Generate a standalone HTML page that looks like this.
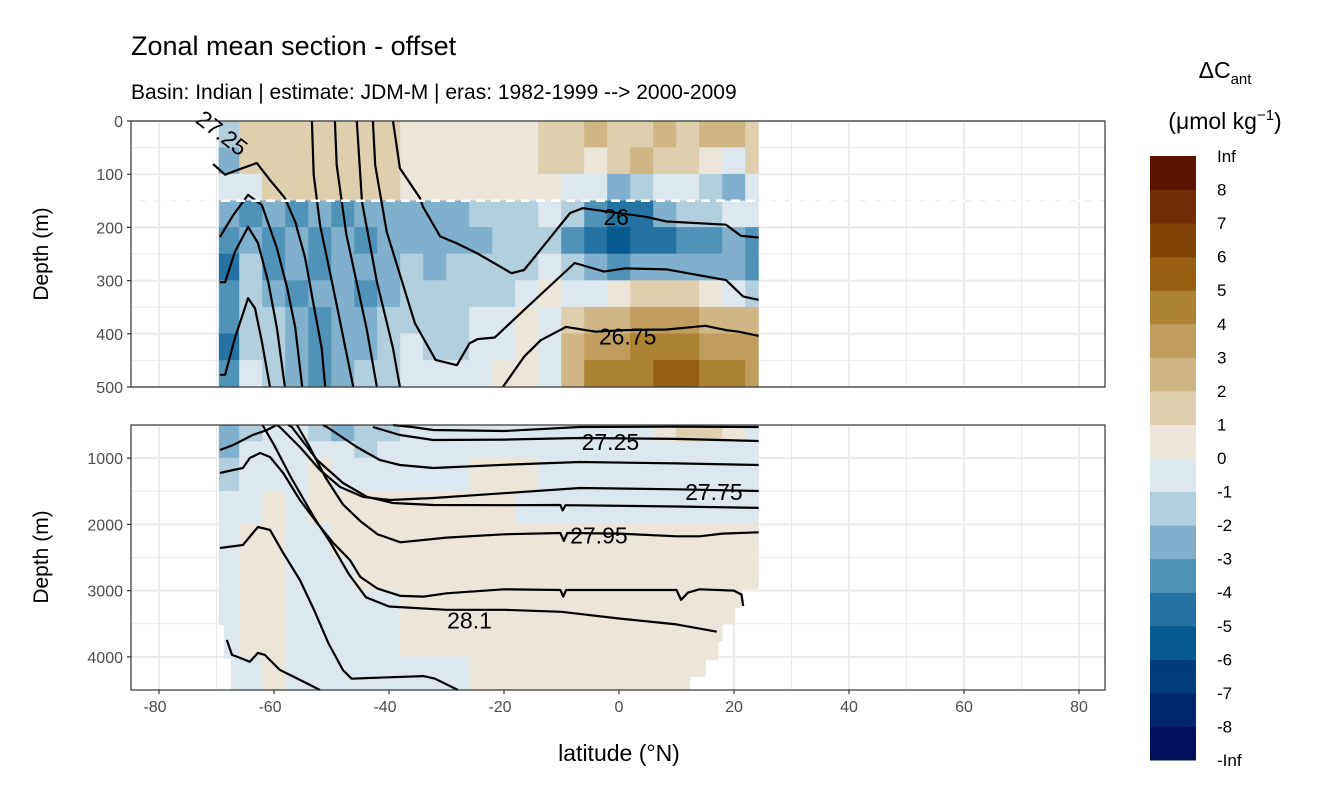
<!DOCTYPE html>
<html><head><meta charset="utf-8"><style>
html,body{margin:0;padding:0;background:#fff}
svg{display:block;font-family:"Liberation Sans",sans-serif}
</style></head><body>
<svg id="chart" width="1344" height="806" viewBox="0 0 1344 806" xmlns="http://www.w3.org/2000/svg">
<text x="131" y="55" font-size="27" fill="#000">Zonal mean section - offset</text>
<text x="131" y="99" font-size="21" fill="#000">Basin: Indian | estimate: JDM-M | eras: 1982-1999 --&gt; 2000-2009</text>
<text transform="translate(48,254) rotate(-90)" text-anchor="middle" font-size="21">Depth (m)</text>
<text transform="translate(48,557) rotate(-90)" text-anchor="middle" font-size="21">Depth (m)</text>
<text x="619" y="761" text-anchor="middle" font-size="23">latitude (°N)</text>
<text x="1225" y="78" text-anchor="middle" font-size="23">ΔC<tspan font-size="15" dy="6">ant</tspan></text>
<text x="1225" y="129" text-anchor="middle" font-size="23">(μmol kg<tspan font-size="15" dy="-9">−1</tspan><tspan dy="9">)</tspan></text>
<g id="g"></g>
</svg>
<script>
// ---- data ----
const binColors = ["#000f5a","#00266a","#003d7a","#075a8f","#2573a2","#5193b8","#80b0cc","#b2cfe0","#dde8ee","#ece5d9","#dfcfae","#cfb684","#bf9d5e","#ad8232","#965f12","#804505","#702c05","#5e1200"];
const binLabels = ["Inf","8","7","6","5","4","3","2","1","0","-1","-2","-3","-4","-5","-6","-7","-8","-Inf"];
const colLats = [-70,-66,-62,-58,-54,-50,-46,-42,-38,-34,-30,-26,-22,-18,-14,-10,-6,-2,2,6,10,14,18,22];
const topDepths = [0,50,100,150,200,250,300,350,400,450,500];
const topVals = [
[-1.5,1.5,1.5,1.5,1.5,1.5,1.5,1.5,0.5,0.5,0.5,0.5,0.5,0.5,1.5,1.5,2.5,1.5,1.5,2.5,1.5,2.5,2.5,1.5],
[-2.5,1.5,1.5,1.5,1.5,1.5,1.5,1.5,0.5,0.5,0.5,0.5,0.5,0.5,1.5,1.5,0.5,1.5,2.5,1.5,1.5,0.5,-0.5,1.5],
[-0.5,-0.5,1.5,1.5,1.5,1.5,1.5,1.5,0.5,0.5,0.5,0.5,0.5,0.5,0.5,-0.5,-0.5,-2.5,-1.5,-0.5,-0.5,-1.5,-2.5,-0.5],
[-2.5,-3.5,-2.5,-3.5,-2.5,-3.5,-2.5,-2.5,-2.5,-2.5,-2.5,-1.5,-1.5,-1.5,-0.5,-1.5,-3.5,-4.5,-4.5,-2.5,-1.5,-1.5,-0.5,-0.5],
[-3.5,-2.5,-3.5,-2.5,-3.5,-2.5,-3.5,-2.5,-2.5,-2.5,-2.5,-2.5,-1.5,-1.5,-1.5,-3.5,-4.5,-5.5,-4.5,-4.5,-3.5,-3.5,-2.5,-3.5],
[-4.5,-1.5,-3.5,-2.5,-3.5,-2.5,-2.5,-2.5,-1.5,-2.5,-1.5,-1.5,-1.5,-1.5,-0.5,-1.5,-2.5,-3.5,-2.5,-2.5,-2.5,-2.5,-2.5,-3.5],
[-3.5,-1.5,-2.5,-3.5,-2.5,-2.5,-3.5,-2.5,-1.5,-1.5,-1.5,-1.5,-1.5,-0.5,0.5,-0.5,-0.5,0.5,1.5,1.5,1.5,0.5,-0.5,-1.5],
[-3.5,-1.5,-1.5,-2.5,-3.5,-2.5,-2.5,-1.5,-1.5,-1.5,-1.5,-0.5,-0.5,0.5,-0.5,1.5,2.5,2.5,3.5,3.5,3.5,2.5,2.5,2.5],
[-4.5,-1.5,-1.5,-2.5,-3.5,-2.5,-2.5,-1.5,-0.5,-1.5,-1.5,-0.5,-0.5,0.5,-0.5,2.5,3.5,3.5,4.5,4.5,4.5,3.5,3.5,3.5],
[-3.5,-0.5,-1.5,-2.5,-3.5,-2.5,-1.5,-1.5,-0.5,-0.5,-0.5,-0.5,0.5,0.5,-0.5,2.5,4.5,4.5,4.5,5.5,5.5,4.5,4.5,3.5]
];
const botDepths = [500,750,1000,1500,2000,2500,3000,3500,4000,4500];
const botVals = [
[-2.5,-1.5,-0.5,-0.5,-1.5,-2.5,-1.5,-1.5,-0.5,-0.5,-0.5,-0.5,-0.5,-0.5,-0.5,-0.5,-0.5,-0.5,-0.5,0.5,1.5,1.5,0.5,-0.5],
[-2.5,-0.5,-0.5,-0.5,-0.5,-0.5,-1.5,-0.5,-0.5,-0.5,-0.5,-0.5,-0.5,-0.5,-0.5,-0.5,-0.5,-0.5,-0.5,-0.5,-0.5,-0.5,-0.5,-0.5],
[-1.5,-0.5,-0.5,-0.5,0.5,-0.5,-0.5,-0.5,-0.5,-0.5,-0.5,0.5,0.5,0.5,-0.5,-0.5,-0.5,-0.5,-0.5,-0.5,-0.5,-0.5,-0.5,-0.5],
[-0.5,-0.5,0.5,-0.5,0.5,0.5,0.5,0.5,0.5,0.5,0.5,0.5,0.5,-0.5,-0.5,-0.5,-0.5,-0.5,-0.5,-0.5,-0.5,-0.5,-0.5,-0.5],
[-0.5,0.5,0.5,-0.5,-0.5,0.5,0.5,0.5,0.5,0.5,0.5,0.5,0.5,0.5,0.5,0.5,0.5,0.5,0.5,0.5,0.5,0.5,0.5,0.5],
[-0.5,0.5,0.5,-0.5,-0.5,-0.5,0.5,0.5,0.5,0.5,0.5,0.5,0.5,0.5,0.5,0.5,0.5,0.5,0.5,0.5,0.5,0.5,0.5,0.5],
[-0.5,0.5,0.5,-0.5,-0.5,-0.5,-0.5,-0.5,0.5,0.5,0.5,0.5,0.5,0.5,0.5,0.5,0.5,0.5,0.5,0.5,0.5,0.5,0.5,0.5],
[-0.5,0.5,0.5,-0.5,-0.5,-0.5,-0.5,-0.5,0.5,0.5,0.5,0.5,0.5,0.5,0.5,0.5,0.5,0.5,0.5,0.5,0.5,0.5,0.5,0.5],
[-0.5,-0.5,0.5,-0.5,-0.5,-0.5,-0.5,-0.5,-0.5,-0.5,-0.5,0.5,0.5,0.5,0.5,0.5,0.5,0.5,0.5,0.5,0.5,0.5,0.5,0.5]
];
const maskDepths = [2980,3260,3510,3770,4050,4300];
const maskRightLats = [21.5,20.2,18.0,17.3,15.1,12.4];
const maskLeftDepths = [3520,4030];
const maskLeftLats = [-68.7,-67.5];

// contours: [lat, depth]
const topContours = {
 "c27-25":[[-70.6,81],[-68.5,101],[-66.3,92],[-63,79],[-60.7,111],[-58.1,145],[-56.3,190],[-54.6,257],[-53.2,340],[-51.7,427],[-51.1,500]],
 "p1":[[-69.4,218],[-67.1,177],[-64.5,139],[-62.1,158],[-59.5,239],[-57.7,314],[-56.3,389],[-55.1,500]],
 "p2":[[-69.4,303],[-68.5,303],[-66.8,246],[-64.5,199],[-62.8,229],[-61,303],[-59.5,389],[-58.1,500]],
 "p3":[[-69.4,477],[-68.5,477],[-66.8,408],[-64.5,333],[-63.3,352],[-62.1,415],[-60.7,500]],
 "l1":[[-53.4,0],[-53.1,101],[-52,195],[-49.2,340],[-46.2,500]],
 "l2":[[-49.4,0],[-49.1,83],[-47.4,214],[-43.9,390],[-42.1,500]],
 "l3":[[-45.6,0],[-44.7,152],[-42.1,302],[-39.3,427],[-38.1,500]],
 "l4":[[-42.8,0],[-42.4,83],[-40.4,208],[-35.5,380],[-31.9,449],[-28.2,459],[-26,418],[-24.6,410],[-21.6,407],[-16.5,355],[-7.7,267],[-2.6,283],[1,277],[8.3,279],[18.6,299],[21.6,330],[24.3,336]],
 "c26":[[-39.3,0],[-38.1,89],[-34.6,145],[-34.1,161],[-31.1,217],[-28.2,230],[-24.6,249],[-18.7,286],[-16.5,280],[-8.5,173],[-6.3,164],[4.7,180],[8.3,189],[18.6,195],[21.2,216],[24.3,219]],
 "c26-75":[[-20.2,500],[-16.5,443],[-13.6,412],[-9.2,387],[-4.1,396],[1,393],[8.3,392],[15,385],[18.6,393],[20.8,396],[24.3,404]]
};
const botContours = {
 "r1":[[-39.3,500],[-36,530],[-32.3,576],[-20,590],[-6.8,530],[10,525],[24.3,530]],
 "r2":[[-42.8,530],[-38.1,651],[-32.3,726],[-20,720],[-6.8,696],[10,710],[24.3,741]],
 "r3":[[-51.5,500],[-50.8,530],[-45.6,832],[-41.6,1028],[-38.1,1104],[-32.3,1149],[-20,1100],[-6.8,1058],[10,1080],[24.3,1104]],
 "r4":[[-59.5,500],[-59,530],[-55.5,832],[-52,1179],[-48.5,1436],[-44.5,1586],[-39.8,1632],[-32.3,1602],[-20,1530],[-6.8,1451],[10,1470],[24.3,1496]],
 "r5":[[-57.5,500],[-56.9,530],[-52.5,1028],[-48,1375],[-43.8,1586],[-39.3,1677],[-32.3,1707],[-20,1710],[-10.2,1707],[-9.8,1790],[-9.3,1710],[10,1730],[24.3,1752]],
 "r6":[[-56,500],[-54,800],[-51,1300],[-48,1700],[-45,1950],[-42,2150],[-38,2270],[-30,2200],[-20,2150],[-10.2,2130],[-9.6,2250],[-9,2130],[0,2140],[10,2180],[14,2180],[18,2140],[24.3,2120]],
 "f1":[[-69.4,877],[-67.1,802],[-63.7,651],[-61.2,575],[-59.6,500]],
 "r7":[[-69.4,1224],[-67.1,1179],[-65.4,1149],[-64.2,998],[-62.4,923],[-60.7,983],[-58.4,1224],[-55.5,1632],[-52.5,1979],[-49.7,2280],[-46.8,2537],[-45,2793],[-42,2970],[-38,3080],[-34,3090],[-30,3040],[-20,2980],[-10.2,2990],[-9.7,3090],[-9.2,2990],[10,2990],[10.8,3140],[12,3030],[14,2980],[20,3000],[21.3,3060],[21.6,3230]],
 "f8":[[-69.4,2356],[-65.4,2311],[-62.8,2039],[-60.7,2084],[-58.4,2431],[-55.5,2839],[-53,3300],[-50.5,3800],[-48,4200],[-46.5,4330],[-44,4320],[-34,4290],[-32,4330],[-28,4500]],
 "r8":[[-62,500],[-60,800],[-57,1300],[-53,1900],[-50,2300],[-47,2750],[-44,3100],[-40,3240],[-30,3290],[-20,3290],[-10,3320],[0,3420],[10,3510],[17,3620]],
 "r9":[[-68.2,3744],[-67.3,3970],[-65.9,4015],[-64.2,4075],[-62.8,3940],[-61.6,3970],[-59,4196],[-55.5,4347],[-52,4500]]
};
const contourLabels = [
 {panel:"top",text:"26",lat:-0.5,depth:180},
 {panel:"top",text:"26.75",lat:1.5,depth:405},
 {panel:"bot",text:"27.25",lat:-1.5,depth:760},
 {panel:"bot",text:"27.75",lat:16.5,depth:1510},
 {panel:"bot",text:"27.95",lat:-3.5,depth:2170},
 {panel:"bot",text:"28.1",lat:-26,depth:3450}
];
const xTicks = [-80,-60,-40,-20,0,20,40,60,80];
const topYTicks = [0,100,200,300,400,500];
const botYTicks = [1000,2000,3000,4000];

// ---- scales ----
const PL=131, PR=1105, TT=121, TB=387, BT=425, BB=690;
const X = lat => 619 + 5.75*lat;
const YT = d => TT + d*(TB-TT)/500;
const YB = d => BT + (d-500)*(BB-BT)/4000;
const NS="http://www.w3.org/2000/svg";
const g=document.getElementById('g');
function mk(tag,attrs,parent){const e=document.createElementNS(NS,tag);for(const k in attrs)e.setAttribute(k,attrs[k]);(parent||g).appendChild(e);return e;}
function colorFor(v){let i=Math.floor(v)+9;i=Math.max(0,Math.min(17,i));return binColors[i];}

function panel(name,top,bot,Y,yTicks,minorTicks,depths,vals,contours,clipId){
  const pg=mk('g',{});
  
  
  mk('rect',{x:PL,y:top,width:PR-PL,height:bot-top,fill:'#fff'},pg);
  for(let l=-70;l<=80;l+=20){const gl=mk('line',{x1:X(l),x2:X(l),y1:top,y2:bot,stroke:'#ebebeb','stroke-width':1},pg);}
  minorTicks.forEach(d=>{const gl=mk('line',{x1:PL,x2:PR,y1:Y(d),y2:Y(d),stroke:'#ebebeb','stroke-width':1},pg);});
  xTicks.forEach(l=>{const gl=mk('line',{x1:X(l),x2:X(l),y1:top,y2:bot,stroke:'#ebebeb','stroke-width':2},pg);});
  yTicks.forEach(d=>{const gl=mk('line',{x1:PL,x2:PR,y1:Y(d),y2:Y(d),stroke:'#ebebeb','stroke-width':2},pg);});
  const fg=mk('g',clipId?{'clip-path':'url(#'+clipId+')'}:{},pg);
  
  
  for(let r=0;r<vals.length;r++){
    for(let c=0;c<colLats.length;c++){
      const l0=Math.max(colLats[c],-69.6), l1=Math.min(colLats[c]+4,24.3);
      const y0=Y(depths[r]), y1=Y(depths[r+1]);
      const cell=mk('rect',{x:X(l0)-0.3,y:y0-0.3,width:X(l1)-X(l0)+0.6,height:y1-y0+0.6,fill:colorFor(vals[r][c])},fg);
      
      
    }
  }
  for(const k in contours){
    const pts=contours[k].map(p=>X(p[0]).toFixed(1)+','+Y(p[1]).toFixed(1)).join(' ');
    const pl=mk('polyline',{points:pts,fill:'none',stroke:'#000','stroke-width':2.2,'stroke-linejoin':'round'},pg);
    
    
  }
  return pg;
}
const defs=mk('defs',{});
const cp=mk('clipPath',{id:'botclip'},defs);
let poly=[[-69.6,500],[24.3,500],[24.3,maskDepths[0]]];
for(let i=0;i<maskDepths.length;i++){
  const prev=i===0?24.3:maskRightLats[i-1];
  poly.push([prev,maskDepths[i]]);poly.push([maskRightLats[i],maskDepths[i]]);
}
poly.push([maskRightLats[maskRightLats.length-1],4500]);
poly.push([maskLeftLats[maskLeftLats.length-1],4500]);
for(let i=maskLeftDepths.length-1;i>=0;i--){
  const prev=i===0?-69.6:maskLeftLats[i-1];
  poly.push([maskLeftLats[i],maskLeftDepths[i]]);poly.push([prev,maskLeftDepths[i]]);
}
mk('polygon',{points:poly.map(p=>X(p[0])+','+YB(p[1])).join(' ')},cp);
const cpt=mk('clipPath',{id:'topclip'},defs);
mk('polygon',{points:[[-70.2,0],[24.3,0],[24.3,500],[-69.6,500],[-69.6,150],[-70.2,120]].map(p=>X(p[0])+','+YT(p[1])).join(' ')},cpt);

const tp=panel('top',TT,TB,YT,topYTicks,[50,150,250,350,450],topDepths,topVals,topContours,'topclip');
const dl=mk('line',{x1:PL,x2:PR,y1:YT(150),y2:YT(150),stroke:'#fff','stroke-width':2.5,'stroke-dasharray':'9,6'},tp);


const bp=panel('bottom',BT,BB,YB,botYTicks,[1500,2500,3500],botDepths,botVals,botContours,'botclip');

const lx=222, ly=133;
const t27=mk('text',{x:lx,y:ly,'font-size':23,transform:'rotate(38 '+lx+' '+ly+')','text-anchor':'middle','dominant-baseline':'central',fill:'#000'});
t27.textContent='27.25';


contourLabels.forEach(c=>{
  const Y=c.panel==='top'?YT:YB;
  const t=mk('text',{x:X(c.lat),y:Y(c.depth)+8,'font-size':23,'text-anchor':'middle',fill:'#000'});
  t.textContent=c.text;
  
  
});

[[TT,TB],[BT,BB]].forEach(([t,b])=>{
  const r=mk('rect',{x:PL,y:t,width:PR-PL,height:b-t,fill:'none',stroke:'#333','stroke-width':1.2});
  
  
});
topYTicks.forEach(d=>{
  mk('line',{x1:PL-4,x2:PL,y1:YT(d),y2:YT(d),stroke:'#333','stroke-width':1.2});
  const t=mk('text',{x:PL-8,y:YT(d)+6,'text-anchor':'end','font-size':16,fill:'#4d4d4d'});
  t.textContent=d;
  
  
});
botYTicks.forEach(d=>{
  mk('line',{x1:PL-4,x2:PL,y1:YB(d),y2:YB(d),stroke:'#333','stroke-width':1.2});
  const t=mk('text',{x:PL-8,y:YB(d)+6,'text-anchor':'end','font-size':16,fill:'#4d4d4d'});
  t.textContent=d;
  
  
});
xTicks.forEach(l=>{
  mk('line',{x1:X(l),x2:X(l),y1:BB,y2:BB+4,stroke:'#333','stroke-width':1.2});
  const t=mk('text',{x:X(l)-(l<0?4:0),y:BB+22,'text-anchor':'middle','font-size':16,fill:'#4d4d4d'});
  t.textContent=l;
  
  
});

const CB0=156, CB1=760, CBX=1150, CBW=46;
const bh=(CB1-CB0)/binColors.length;
for(let i=0;i<binColors.length;i++){
  const r=mk('rect',{x:CBX,y:CB0+(binColors.length-1-i)*bh,width:CBW,height:bh+0.5,fill:binColors[i]});
  
  
}
binLabels.forEach((s,i)=>{
  const t=mk('text',{x:1217,y:CB0+i*bh+6,'font-size':17,fill:'#000'});
  t.textContent=s;
  
  
});
</script>
</body></html>
